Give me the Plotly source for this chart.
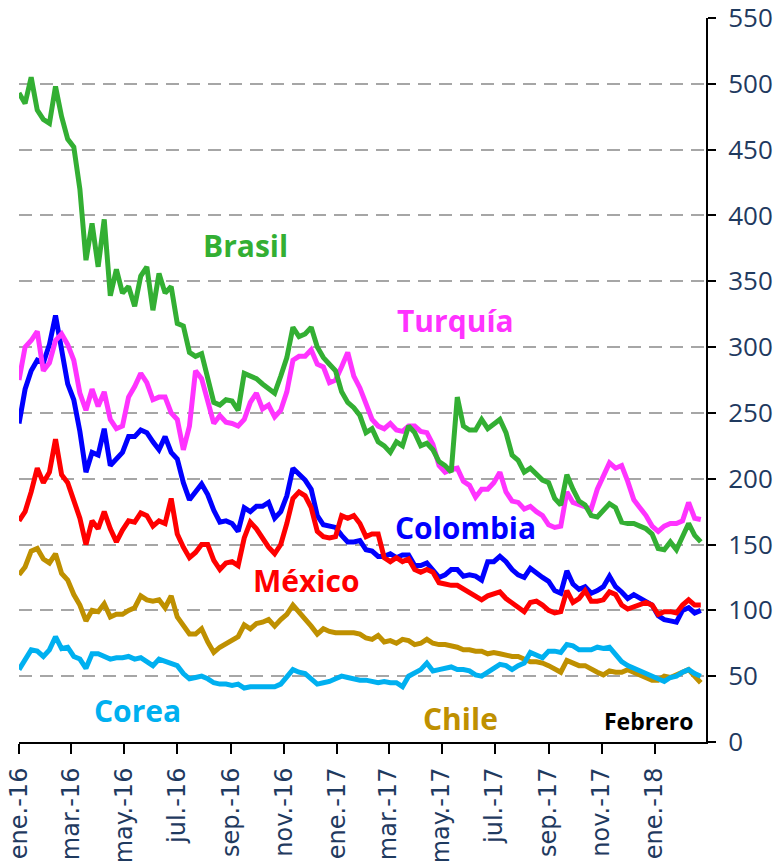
import pandas as pd
import plotly.graph_objects as go

# weekly observations, ene.-2016 to feb.-2018
fechas = pd.date_range("2016-01-01", periods=113, freq="7D")

brasil = [493, 485, 505, 480, 473, 470, 498, 475, 458, 452,
          420, 366, 394, 361, 397, 339, 359, 341, 346, 331,
          354, 361, 328, 356, 341, 346, 318, 316, 296, 293,
          295, 278, 258, 256, 260, 259, 252, 280, 278, 276,
          272, 268, 265, 278, 292, 315, 308, 310, 315, 300,
          292, 287, 282, 266, 258, 254, 248, 235, 238, 228,
          225, 220, 228, 225, 240, 235, 225, 227, 222, 213,
          210, 205, 262, 240, 237, 237, 245, 238, 242, 245,
          235, 218, 214, 205, 208, 204, 199, 197, 185, 180,
          203, 192, 183, 180, 172, 171, 176, 181, 178, 167,
          166, 166, 164, 162, 158, 147, 146, 152, 146, 156,
          166, 157, 152]

turquia = [275, 300, 305, 312, 282, 288, 305, 310, 302, 290,
           265, 252, 268, 255, 266, 245, 238, 240, 262, 270,
           280, 273, 260, 262, 262, 250, 245, 222, 240, 282,
           276, 258, 242, 248, 243, 242, 240, 245, 258, 265,
           253, 256, 247, 252, 266, 290, 293, 293, 298, 287,
           285, 273, 275, 285, 296, 278, 269, 257, 245, 240,
           238, 242, 237, 236, 240, 240, 236, 235, 226, 210,
           205, 207, 208, 198, 195, 186, 192, 192, 197, 205,
           190, 183, 182, 177, 179, 175, 172, 165, 163, 164,
           190, 182, 180, 178, 177, 192, 203, 212, 208, 210,
           198, 184, 178, 172, 164, 160, 164, 166, 166, 168,
           182, 170, 169]

colombia = [242, 268, 282, 290, 288, 302, 324, 300, 272, 260,
            236, 205, 220, 218, 238, 210, 215, 220, 232, 232,
            237, 235, 228, 222, 232, 220, 215, 197, 184, 190,
            196, 188, 176, 167, 168, 166, 160, 178, 175, 179,
            179, 182, 170, 175, 187, 208, 203, 199, 192, 172,
            165, 164, 163, 157, 152, 152, 153, 146, 145, 141,
            141, 143, 140, 142, 142, 134, 134, 136, 131, 125,
            127, 131, 131, 126, 127, 126, 123, 137, 137, 141,
            137, 131, 127, 125, 132, 128, 125, 122, 115, 113,
            130, 120, 116, 118, 113, 115, 118, 126, 118, 114,
            109, 112, 109, 107, 104, 96, 93, 92, 91, 100,
            102, 98, 100]

mexico = [168, 175, 190, 208, 197, 205, 230, 203, 197, 182,
          170, 150, 168, 162, 175, 162, 152, 161, 168, 167,
          174, 172, 164, 168, 166, 185, 158, 148, 140, 144,
          150, 150, 138, 131, 136, 137, 134, 155, 167, 162,
          155, 148, 143, 150, 166, 185, 190, 187, 178, 160,
          156, 155, 156, 172, 170, 172, 166, 156, 158, 158,
          140, 137, 140, 137, 139, 131, 129, 131, 129, 121,
          120, 119, 119, 116, 114, 110, 108, 111, 113, 114,
          109, 106, 102, 99, 106, 107, 104, 100, 98, 99,
          115, 106, 109, 115, 107, 107, 108, 114, 112, 104,
          101, 103, 105, 106, 104, 97, 99, 99, 98, 104,
          108, 104, 104]

chile = [127, 133, 145, 147, 139, 136, 143, 128, 123, 112,
         104, 92, 100, 99, 105, 95, 97, 97, 100, 102,
         111, 108, 107, 108, 102, 111, 95, 88, 82, 82,
         86, 76, 68, 72, 75, 78, 80, 89, 86, 90,
         91, 93, 88, 93, 97, 104, 99, 94, 88, 82,
         86, 84, 83, 83, 83, 83, 82, 79, 78, 81,
         76, 77, 75, 78, 77, 74, 75, 78, 75, 74,
         74, 73, 72, 70, 70, 69, 69, 67, 68, 67,
         66, 65, 65, 63, 61, 61, 60, 58, 56, 53,
         62, 60, 58, 58, 55, 53, 51, 54, 53, 53,
         55, 53, 51, 50, 47, 47, 50, 49, 51, 53,
         55, 50, 45]

corea = [55, 62, 70, 69, 65, 70, 80, 71, 72, 65,
         63, 56, 67, 67, 65, 63, 64, 64, 65, 63,
         64, 61, 58, 63, 61, 60, 58, 52, 48, 49,
         50, 48, 45, 44, 44, 43, 44, 41, 42, 42,
         42, 42, 42, 44, 50, 55, 53, 52, 48, 44,
         45, 46, 48, 50, 49, 48, 47, 47, 46, 45,
         46, 45, 45, 42, 50, 52, 55, 60, 54, 55,
         56, 57, 55, 55, 54, 51, 50, 53, 55, 59,
         58, 55, 58, 60, 68, 66, 64, 69, 69, 68,
         74, 73, 70, 70, 70, 72, 71, 72, 67, 61,
         58, 56, 54, 53, 51, 48, 46, 49, 50, 53,
         55, 52, 50]

tick_fechas = pd.date_range("2016-01-01", "2018-01-01", freq="2MS")
tick_labels = ["ene.-16", "mar.-16", "may.-16", "jul.-16", "sep.-16", "nov.-16",
               "ene.-17", "mar.-17", "may.-17", "jul.-17", "sep.-17", "nov.-17",
               "ene.-18"]

series = [
    ("Chile", chile, "#BF9000"),
    ("Corea", corea, "#00B0F0"),
    ("Colombia", colombia, "#0000FF"),
    ("México", mexico, "#FF0000"),
    ("Turquía", turquia, "#FF33FF"),
    ("Brasil", brasil, "#33AF33"),
]

fig = go.Figure()
for name, vals, color in series:
    fig.add_trace(go.Scatter(x=fechas, y=vals, mode="lines", name=name,
                             line=dict(color=color, width=5)))

# labels placed next to each line
labels = [
    ("Brasil", "2016-09-17", 377, "#33AF33", 30),
    ("Turquía", "2017-05-17", 320, "#FF33FF", 30),
    ("Colombia", "2017-05-28", 163, "#0000FF", 30),
    ("México", "2016-11-27", 123, "#FF0000", 30),
    ("Corea", "2016-05-16", 24, "#00B0F0", 30),
    ("Chile", "2017-05-23", 18, "#BF9000", 30),
    ("Febrero", "2017-12-25", 16, "#000000", 23),
]
for txt, x, y, color, size in labels:
    fig.add_annotation(x=x, y=y, text="<b>%s</b>" % txt, showarrow=False,
                       font=dict(family="Open Sans", size=size, color=color))

# page body keeps its 8px default margin, so the figure is 8px smaller
fig.update_layout(
    width=773, height=857, autosize=False,
    margin=dict(l=11, r=75, t=10, b=123, autoexpand=False),
    plot_bgcolor="white", paper_bgcolor="white",
    showlegend=False,
    font=dict(family="Open Sans", color="#1F3A5F"),
)
fig.update_xaxes(
    range=["2016-01-01", "2018-03-01"],
    tickvals=tick_fechas, ticktext=tick_labels, tickangle=-90,
    tickfont=dict(family="DejaVu Sans", size=24, color="#1F3A5F"),
    ticklabeloverflow="allow", ticklabelstandoff=4,
    showline=True, linecolor="black", linewidth=2,
    ticks="outside", ticklen=10, tickwidth=2, tickcolor="black",
    showgrid=False, zeroline=False, automargin=False,
)
fig.update_yaxes(
    side="right", range=[0, 550], dtick=50,
    tickfont=dict(size=26, color="#1F3A5F"),
    ticklabeloverflow="allow",
    showline=True, linecolor="black", linewidth=2,
    ticks="outside", ticklen=8, tickwidth=2, tickcolor="black",
    ticklabelstandoff=7,
    showgrid=True, gridcolor="#A6A6A6", gridwidth=2, griddash="13px,8px",
    zeroline=False, automargin=False,
)

fig.write_html("out.html")
